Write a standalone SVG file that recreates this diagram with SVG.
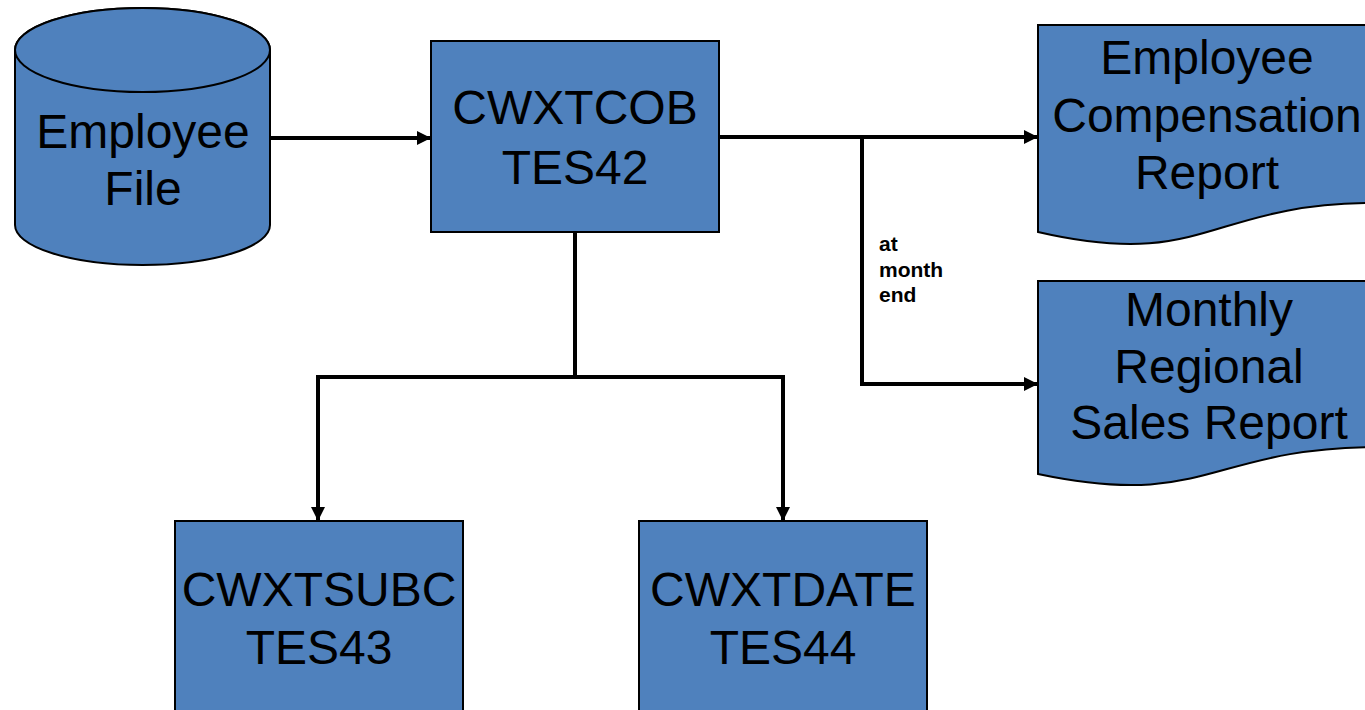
<svg xmlns="http://www.w3.org/2000/svg" width="1365" height="710" viewBox="0 0 1365 710">
<style>
.shape{fill:#4F81BD;stroke:#000;stroke-width:2}
.lbl{font-family:"Liberation Sans",Arial,sans-serif;font-size:48px;fill:#000;text-anchor:middle}
.small{font-family:"Liberation Sans",Arial,sans-serif;font-size:21px;font-weight:bold;fill:#000}
.conn{fill:none;stroke:#000;stroke-width:4;stroke-linejoin:miter}
.sq{stroke-linecap:square}
</style>
<defs>
<marker id="arr" markerUnits="userSpaceOnUse" markerWidth="15" markerHeight="15" refX="14" refY="7" orient="auto">
<path d="M0,0 L14,7 L0,14 z" fill="#000"/>
</marker>
</defs>
<rect width="1365" height="710" fill="#fff"/>
<g id="connectors">
<path class="conn" d="M270,138 H431" marker-end="url(#arr)"/>
<path class="conn" d="M719,137 H1038" marker-end="url(#arr)"/>
<path class="conn" d="M862,137 V384 H1038" marker-end="url(#arr)"/>
<path class="conn" d="M575,232 V377"/>
<path class="conn sq" d="M318,377 H783"/>
<path class="conn" d="M318,377 V521" marker-end="url(#arr)"/>
<path class="conn" d="M783,377 V521" marker-end="url(#arr)"/>
<text class="small" x="879" y="251">at</text>
<text class="small" x="879" y="277">month</text>
<text class="small" x="879" y="302">end</text>
</g>
<g id="employee-file">
<path class="shape" d="M15,50 V225 A127.5,40 0 0 0 270,225 V50 A127.5,42 0 0 0 15,50 Z"/>
<ellipse class="shape" cx="142.5" cy="50" rx="127.5" ry="42"/>
<text class="lbl" x="143" y="148">Employee</text>
<text class="lbl" x="143" y="205">File</text>
</g>
<g id="cwxtcob">
<rect class="shape" x="431" y="41" width="288" height="191"/>
<text class="lbl" x="575" y="124">CWXTCOB</text>
<text class="lbl" x="575" y="184">TES42</text>
</g>
<g id="cwxtsubc">
<rect class="shape" x="175" y="521" width="288" height="200"/>
<text class="lbl" x="319" y="606">CWXTSUBC</text>
<text class="lbl" x="319" y="664">TES43</text>
</g>
<g id="cwxtdate">
<rect class="shape" x="639" y="521" width="288" height="200"/>
<text class="lbl" x="783" y="606">CWXTDATE</text>
<text class="lbl" x="783" y="664">TES44</text>
</g>
<g id="comp-report">
<path class="shape" d="M1038,25 H1376 V203 C1207,203 1207,271 1038,232 Z"/>
<text class="lbl" x="1207" y="74">Employee</text>
<text class="lbl" x="1207" y="132">Compensation</text>
<text class="lbl" x="1207" y="189">Report</text>
</g>
<g id="sales-report">
<path class="shape" d="M1038,281 H1380 V447 C1209,447 1209,510 1038,474 Z"/>
<text class="lbl" x="1209" y="326">Monthly</text>
<text class="lbl" x="1209" y="383">Regional</text>
<text class="lbl" x="1209" y="439">Sales Report</text>
</g>
</svg>
